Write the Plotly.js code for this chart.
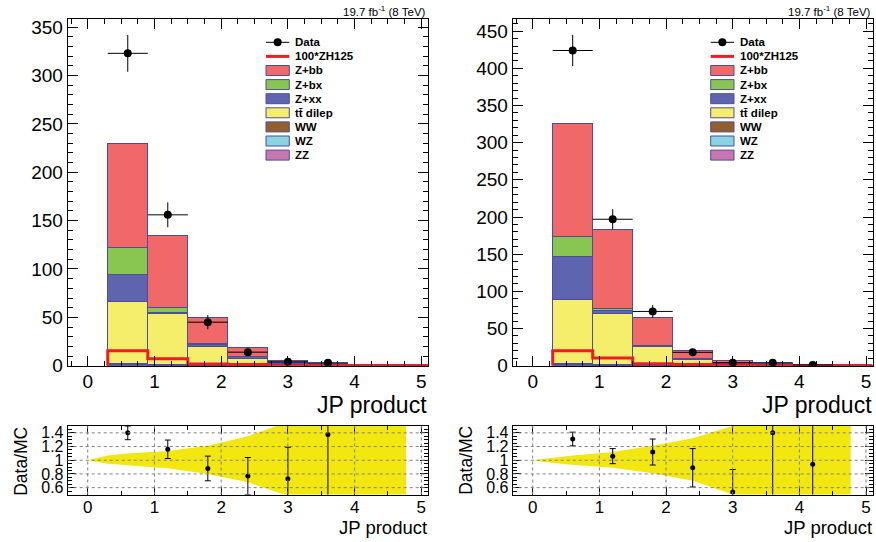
<!DOCTYPE html>
<html><head><meta charset="utf-8">
<script src="https://cdn.plot.ly/plotly-3.0.1.min.js"></script>
<style>html,body{margin:0;padding:0;background:#fff}#chart{width:876px;height:542px}</style>
</head><body><div id="chart"></div>
<script>
// ---------------- data ----------------
const binEdges   = [0.3, 0.9, 1.5, 2.1, 2.7, 3.3, 3.9, 4.5, 5.1];
const binCenters = [0.6, 1.2, 1.8, 2.4, 3.0, 3.6, 4.2, 4.8];

// left panel (stack components)
const zbbL = [107.5, 74.0, 27.5, 9.0, 2.4, 1.1, 0.1, 0];
const zbxL = [27.9, 5.1, 0.6, 0.3, 0.3, 0.1, 0, 0];
const zxxL = [28.3, 1.7, 2.5, 1.5, 1.0, 0.4, 0.1, 0];
const ttL  = [63.6, 52.0, 18.8, 7.2, 1.5, 0.8, 0.1, 0];
const wwL  = [0.5, 0.3, 0.2, 0.05, 0, 0, 0, 0];
const wzL  = [0.8, 0.5, 0.2, 0.1, 0, 0, 0, 0];
const zzL  = [1.2, 0.7, 0.4, 0.2, 0.1, 0, 0, 0];
const zhL  = [15.5, 7.2, 1.7, 1.2, 0.3, 0.2, 0.1, 0.1];
const dataXL   = [0.6, 1.2, 1.8, 2.4, 3.0, 3.6];
const dataL    = [323, 156, 45, 14, 4, 3];
const dataErrL = [19, 12.9, 7.2, 3.8, 2, 1.7];
const ratioL    = [1.40, 1.16, 0.88, 0.77, 0.73, 1.375];
const ratioErrL = [0.10, 0.135, 0.18, 0.27, 0.46, 1.5];

// right panel
const zbbR = [151.3, 106.4, 36.5, 10.0, 3.5, 1.3, 0.5, 0];
const zbxR = [27.5, 3.7, 0.3, 0.2, 0.2, 0.1, 0, 0];
const zxxR = [57.4, 3.1, 1.9, 1.0, 1.0, 0.5, 0.2, 0];
const ttR  = [86.5, 69.0, 24.7, 8.6, 2.4, 0.9, 0.3, 0];
const wwR  = [0.5, 0.3, 0.2, 0.1, 0, 0, 0, 0];
const wzR  = [1.0, 0.5, 0.3, 0.1, 0, 0, 0, 0];
const zzR  = [1.5, 0.8, 0.4, 0.2, 0.1, 0, 0, 0];
const zhR  = [20.2, 10.4, 2.5, 1.5, 1.8, 0.3, 0.2, 0.2];
const dataXR   = [0.6, 1.2, 1.8, 2.4, 3.0, 3.6, 4.2];
const dataR    = [424, 197, 73, 18, 4, 4, 1];
const dataErrR = [21, 13.5, 8.5, 4.2, 2, 2, 1];
const ratioR    = [1.31, 1.06, 1.12, 0.89, 0.535, 1.40, 0.94];
const ratioErrR = [0.10, 0.11, 0.19, 0.28, 0.33, 1.5, 1.5];

// MC uncertainty bands in the ratio panels
const bandX   = [0, 0.3, 0.6, 1.2, 1.8, 2.4, 3.0, 3.6, 4.77];
const bandUpL = [1, 1.07, 1.10, 1.135, 1.21, 1.35, 1.56, 2.0, 2.5];
const bandLoL = [1, 0.95, 0.925, 0.885, 0.80, 0.68, 0.48, 0.0, 0.0];
const bandUpR = [1, 1.04, 1.07, 1.12, 1.21, 1.32, 1.50, 2.0, 2.5];
const bandLoR = [1, 0.96, 0.935, 0.89, 0.81, 0.70, 0.50, 0.0, 0.0];

const legendNames = ['Data', '100*ZH125', 'Z+bb', 'Z+bx', 'Z+xx', 'tt\u0304 dilep', 'WW', 'WZ', 'ZZ'];
const xTicks = [0, 1, 2, 3, 4, 5];
const ratioTicks = [0.6, 0.8, 1.0, 1.2, 1.4];

// ---------------- styling ----------------
const W = 876, H = 542;
const FONT = 'Liberation Sans, Arial, Helvetica, sans-serif';
const col = {zbb:'#f06868', zbx:'#88c651', zxx:'#5e65ae', tt:'#f4ee6b', ww:'#955f2c', wz:'#89d4e1', zz:'#c776b1'};
const outline = '#4d4d9e';
const zhColor = '#ee1c24';
const bandColor = '#f2e70f';
const px = v => v / W;
const py = v => 1 - v / H;

const binWidths = binEdges.slice(1).map((e, i) => e - binEdges[i]);

function stackTraces(xa, ya, comps) {
  return comps.map(c => ({
    type: 'bar', x: binCenters, y: c.y, width: binWidths,
    marker: {color: c.color, line: {color: outline, width: 1}},
    xaxis: xa, yaxis: ya, showlegend: false, hoverinfo: 'skip'
  }));
}
function zhTrace(xa, ya, zh) {
  return {type: 'scatter', mode: 'lines', x: [binEdges[0]].concat(binEdges),
    y: [0].concat(zh).concat([zh[zh.length - 1]]),
    line: {shape: 'hv', color: zhColor, width: 3}, xaxis: xa, yaxis: ya, showlegend: false, hoverinfo: 'skip'};
}
function dataTrace(xa, ya, x, y, e) {
  const half = x.map(v => { const i = binCenters.indexOf(v); return binWidths[i] / 2; });
  return {type: 'scatter', mode: 'markers', x: x, y: y,
    marker: {color: 'black', size: 8},
    error_y: {type: 'data', array: e, color: 'black', thickness: 1, width: 0},
    error_x: {type: 'data', array: half, color: 'black', thickness: 1, width: 0},
    xaxis: xa, yaxis: ya, showlegend: false, hoverinfo: 'skip'};
}
function bandTrace(xa, ya, up, lo) {
  return {type: 'scatter', mode: 'lines', x: bandX.concat(bandX.slice().reverse()),
    y: up.concat(lo.slice().reverse()), fill: 'toself', fillcolor: bandColor,
    line: {width: 0, color: bandColor}, xaxis: xa, yaxis: ya, showlegend: false, hoverinfo: 'skip'};
}
function ratioTrace(xa, ya, x, y, e) {
  return {type: 'scatter', mode: 'markers', x: x, y: y,
    marker: {color: 'black', size: 5},
    error_y: {type: 'data', array: e, color: 'black', thickness: 1, width: 3},
    xaxis: xa, yaxis: ya, showlegend: false, hoverinfo: 'skip', cliponaxis: true};
}

const traces = [].concat(
  stackTraces('x', 'y', [
    {y: zzL, color: col.zz}, {y: wzL, color: col.wz}, {y: wwL, color: col.ww},
    {y: ttL, color: col.tt}, {y: zxxL, color: col.zxx}, {y: zbxL, color: col.zbx}, {y: zbbL, color: col.zbb}]),
  [zhTrace('x', 'y', zhL), dataTrace('x', 'y', dataXL, dataL, dataErrL)],
  stackTraces('x2', 'y2', [
    {y: zzR, color: col.zz}, {y: wzR, color: col.wz}, {y: wwR, color: col.ww},
    {y: ttR, color: col.tt}, {y: zxxR, color: col.zxx}, {y: zbxR, color: col.zbx}, {y: zbbR, color: col.zbb}]),
  [zhTrace('x2', 'y2', zhR), dataTrace('x2', 'y2', dataXR, dataR, dataErrR)],
  [bandTrace('x3', 'y3', bandUpL, bandLoL), ratioTrace('x3', 'y3', dataXL, ratioL, ratioErrL)],
  [bandTrace('x4', 'y4', bandUpR, bandLoR), ratioTrace('x4', 'y4', dataXR, ratioR, ratioErrR)]
);

// ---------------- layout ----------------
const domL = [px(67.7), px(428)], domR = [px(512.7), px(872.7)];
const domMainY = [py(365.7), py(18.5)], domRatioY = [py(494.5), py(426)];

function axBase(extra) {
  return Object.assign({showline: true, linecolor: 'black', linewidth: 1, mirror: 'ticks',
    ticks: 'inside', tickcolor: 'black', tickwidth: 1, showgrid: false, zeroline: false,
    tickfont: {family: FONT, size: 19, color: 'black'}, fixedrange: true}, extra);
}
const mainX = d => axBase({domain: d, range: [-0.3, 5.1], tick0: 0, dtick: 1, ticklen: 10,
  ticklabelstandoff: -2,
  minor: {dtick: 0.25, ticklen: 5, ticks: 'inside', tickcolor: 'black'}});
const mainY = (d, top) => axBase({domain: d, range: [0, top], tick0: 0, dtick: 50, ticklen: 10,
  minor: {dtick: 10, ticklen: 5, ticks: 'inside', tickcolor: 'black'}});
const ratX = d => axBase({domain: d, range: [-0.3, 5.1], tick0: 0, dtick: 1, ticklen: 8,
  tickfont: {family: FONT, size: 17, color: 'black'}, ticklabelstandoff: -3,
  minor: {dtick: 0.5, ticklen: 4, ticks: 'inside', tickcolor: 'black'}});
const ratY = d => axBase({domain: d, range: [0.5, 1.5], tick0: 0, dtick: 0.2, ticklen: 8,
  tickfont: {family: FONT, size: 16, color: 'black'},
  minor: {dtick: 0.05, ticklen: 4, ticks: 'inside', tickcolor: 'black'}});

const shapes = [], annotations = [];
// ratio grid lines (dotted, drawn over the band)
[['x3', 'y3'], ['x4', 'y4']].forEach(([xa, ya]) => {
  xTicks.forEach(v => shapes.push({type: 'line', xref: xa, yref: ya + ' domain', x0: v, x1: v, y0: 0, y1: 1,
    line: {color: '#808080', width: 1, dash: 'dot'}, layer: 'above'}));
  ratioTicks.forEach(v => shapes.push({type: 'line', xref: xa + ' domain', yref: ya, x0: 0, x1: 1, y0: v, y1: v,
    line: {color: '#808080', width: 1, dash: 'dot'}, layer: 'above'}));
});

// legends
const legColors = [null, null, col.zbb, col.zbx, col.zxx, col.tt, col.ww, col.wz, col.zz];
function legend(x0, x1, tx) {
  legendNames.forEach((name, i) => {
    const yc = 42.3 + 14.1 * i;
    if (i === 0) {
      shapes.push({type: 'line', xref: 'paper', yref: 'paper', x0: px(x0), x1: px(x1), y0: py(yc), y1: py(yc),
        line: {color: 'black', width: 1}});
      const xm = (x0 + x1) / 2;
      shapes.push({type: 'circle', xref: 'paper', yref: 'paper', x0: px(xm - 4), x1: px(xm + 4), y0: py(yc + 4), y1: py(yc - 4),
        fillcolor: 'black', line: {color: 'black', width: 0}});
    } else if (i === 1) {
      shapes.push({type: 'line', xref: 'paper', yref: 'paper', x0: px(x0), x1: px(x1), y0: py(yc), y1: py(yc),
        line: {color: zhColor, width: 3}});
    } else {
      shapes.push({type: 'rect', xref: 'paper', yref: 'paper', x0: px(x0), x1: px(x1), y0: py(yc + 5), y1: py(yc - 5),
        fillcolor: legColors[i], line: {color: outline, width: 1}});
    }
    annotations.push({xref: 'paper', yref: 'paper', x: px(tx), y: py(yc), xanchor: 'left', yanchor: 'middle',
      text: '<b>' + name + '</b>', showarrow: false, font: {family: FONT, size: 11.5, color: 'black'}});
  });
}
legend(266, 289.3, 293);
legend(710.7, 734, 737.5);

function txt(text, x, y, size, xanchor, extra) {
  annotations.push(Object.assign({xref: 'paper', yref: 'paper', x: px(x), y: py(y), xanchor: xanchor, yanchor: 'middle',
    text: text, showarrow: false, font: {family: FONT, size: size, color: 'black'}}, extra || {}));
}
txt('19.7 fb<sup>-1</sup> (8 TeV)', 428, 11.5, 11.5, 'right');
txt('19.7 fb<sup>-1</sup> (8 TeV)', 872.7, 11.5, 11.5, 'right');
txt('JP product', 429, 404.5, 23, 'right');
txt('JP product', 873.5, 404.5, 23, 'right');
txt('JP product', 429, 527.5, 18.5, 'right');
txt('JP product', 873.5, 527.5, 18.5, 'right');
txt('Data/MC', 20.8, 461, 17.5, 'center', {textangle: -90});
txt('Data/MC', 465.8, 460, 17.5, 'center', {textangle: -90});

const layout = {
  width: W, height: H, margin: {l: 0, r: 0, t: 0, b: 0},
  paper_bgcolor: 'white', plot_bgcolor: 'white', barmode: 'stack', showlegend: false,
  font: {family: FONT, color: 'black'},
  xaxis: Object.assign(mainX(domL), {anchor: 'y'}),
  yaxis: Object.assign(mainY(domMainY, 359), {anchor: 'x'}),
  xaxis2: Object.assign(mainX(domR), {anchor: 'y2'}),
  yaxis2: Object.assign(mainY(domMainY, 467), {anchor: 'x2'}),
  xaxis3: Object.assign(ratX(domL), {anchor: 'y3'}),
  yaxis3: Object.assign(ratY(domRatioY), {anchor: 'x3'}),
  xaxis4: Object.assign(ratX(domR), {anchor: 'y4'}),
  yaxis4: Object.assign(ratY(domRatioY), {anchor: 'x4'}),
  shapes: shapes, annotations: annotations
};
Plotly.newPlot('chart', traces, layout, {staticPlot: true, displayModeBar: false});
</script></body></html>
